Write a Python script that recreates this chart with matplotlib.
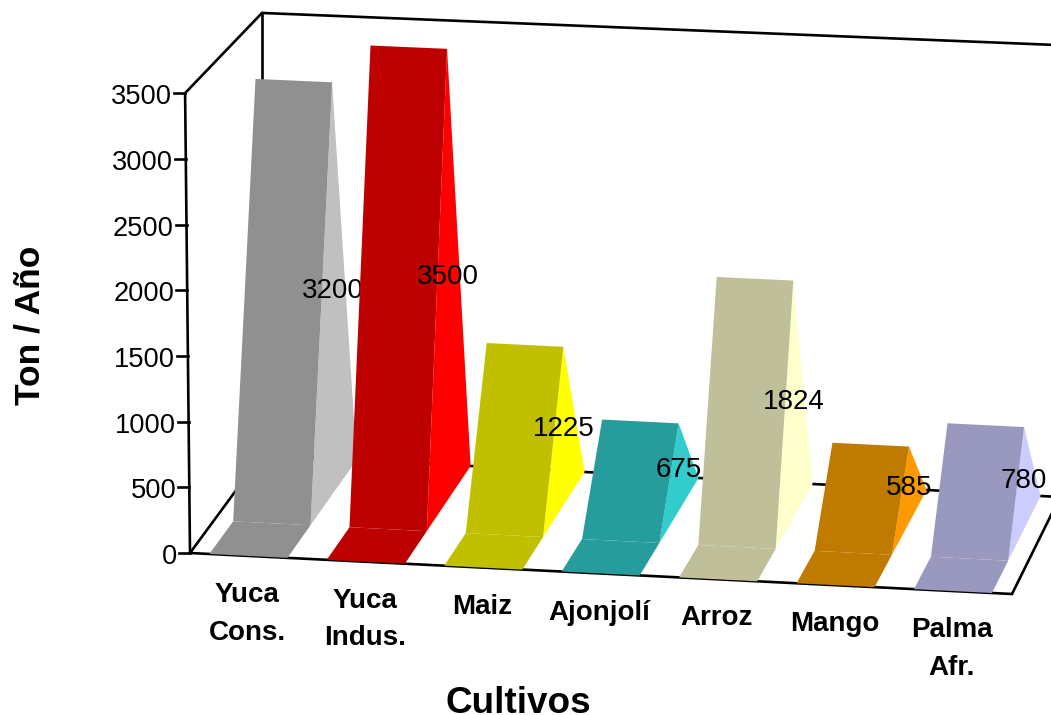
import matplotlib
matplotlib.use("Agg")
import matplotlib.pyplot as plt
from matplotlib.patches import Polygon

plt.rcParams['font.family'] = ['Liberation Sans', 'DejaVu Sans']

categories = ["Yuca\nCons.", "Yuca\nIndus.", "Maiz", "Ajonjolí", "Arroz", "Mango", "Palma\nAfr."]
values = [3200, 3500, 1225, 675, 1824, 585, 780]
face_colors = ["#909090", "#BD0000", "#C0C000", "#269C9C", "#BFBF99", "#BF7A00", "#9999BF"]
side_colors = ["#C0C0C0", "#FF0000", "#FFFF00", "#33CCCC", "#FFFFCC", "#FF9900", "#CCCCFF"]
y_ticks = [0, 500, 1000, 1500, 2000, 2500, 3000, 3500]
y_max = 3500

# projection of the 3-D box on the canvas (pixels)
FL, FR, BL, BR = (190, 553), (1012, 594), (262, 455), (1060, 497)
n = len(categories)


def project(cat, depth, val):
    """cat: category position, depth: 0 front..1 back, val: value."""
    u = cat / n
    fx = FL[0] + (FR[0] - FL[0]) * u
    fy = FL[1] + (FR[1] - FL[1]) * u
    bx = BL[0] + (BR[0] - BL[0]) * u
    by = BL[1] + (BR[1] - BL[1]) * u
    x = fx + (bx - fx) * depth - 0.0014 * (1 - depth) * val
    k = 0.1314 - 0.0051 * depth + 0.0028 * u * depth
    y = fy + (by - fy) * depth - k * val
    return x, y


fig = plt.figure(figsize=(10.51, 7.15), dpi=100)
ax = fig.add_axes([0, 0, 1, 1])
ax.set_xlim(0, 1051)
ax.set_ylim(715, 0)
ax.axis('off')

# box lines
box = [
    [(0, 0, 0), (n, 0, 0)],
    [(n, 0, 0), (n, 1, 0)],
    [(0, 0, 0), (0, 1, 0)],
    [(0, 1, 0), (n, 1, 0)],
    [(0, 0, 0), (0, 0, y_max)],
    [(0, 0, y_max), (0, 1, y_max)],
    [(0, 1, 0), (0, 1, y_max)],
    [(0, 1, y_max), (n, 1, y_max)],
]
for a, b in box:
    p, q = project(*a), project(*b)
    ax.plot([p[0], q[0]], [p[1], q[1]], color='black', lw=1.9, zorder=2,
            solid_capstyle='round')

for t in y_ticks:
    x, y = project(0, 0, t)
    ax.plot([x - 11, x], [y, y], color='black', lw=1.9, zorder=2)
    ax.text(x - 13, y + 1, str(t), ha='right', va='center_baseline', fontsize=19.6, color='black')

L, R = 0.165, 0.83
for i, (v, fc, sc) in enumerate(zip(values, face_colors, side_colors)):
    z = 10 + 2 * i
    l, r = i + L, i + R
    side = [project(r, 2 / 3, v), project(r, 1 / 3, 0), project(r, 1, 0)]
    face = [project(l, 1 / 3, 0), project(r, 1 / 3, 0), project(r, 2 / 3, v), project(l, 2 / 3, v)]
    floor = [project(l, 0, 0), project(r, 0, 0), project(r, 1 / 3, 0), project(l, 1 / 3, 0)]
    ax.add_patch(Polygon(side, closed=True, fc=sc, ec='none', zorder=z))
    ax.add_patch(Polygon(face, closed=True, fc=fc, ec='none', zorder=z))
    ax.add_patch(Polygon(floor, closed=True, fc=fc, ec='none', zorder=z))
    lx, ly = project(r, 2 / 3, v / 2)
    ax.text(lx, ly + 3.5, str(v), ha='center', va='center', fontsize=20, color='black', zorder=z + 1)
    cx, cy = project(i + 0.5, 0, 0)
    ax.text(cx - 1.5, cy + 26, categories[i], ha='center', va='top', fontsize=20, fontweight='bold',
            linespacing=1.58, color='black', zorder=z + 1)

ax.text(30, 325, "Ton / Año", rotation=90, ha='center', va='center', fontsize=25.5, fontweight='bold')
ax.text(518, 713, "Cultivos", ha='center', va='baseline', fontsize=26.6, fontweight='bold')

fig.savefig("out.png", dpi=100)
